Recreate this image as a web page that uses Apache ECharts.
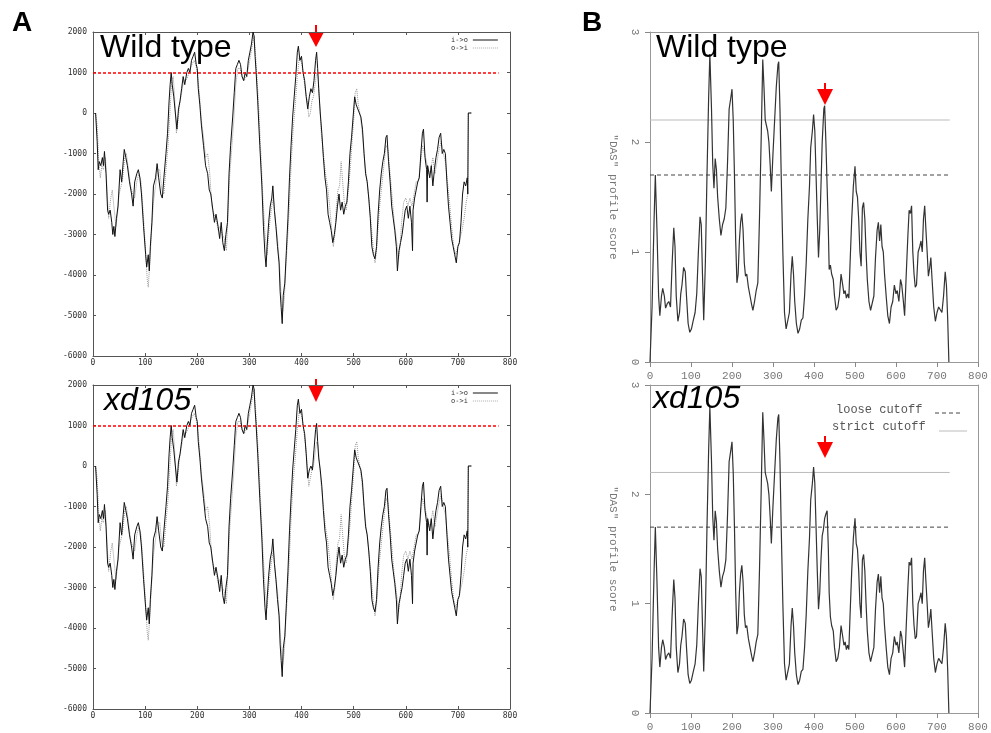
<!DOCTYPE html>
<html><head><meta charset="utf-8">
<script src="https://cdn.jsdelivr.net/npm/echarts@6/dist/echarts.min.js"></script>
<style>html,body{margin:0;padding:0;background:#fff}#c{width:991px;height:733px}</style>
</head><body><div id="c"></div>
<script>
// ---------- Panel A: hydrophobicity profile (residue, score) ----------
const wtInOut = [[5,0],[8,-700],[10,-1400],[12,-1200],[15,-1300],[18,-1100],[20,-1300],[22,-950],[25,-1500],[28,-2400],[30,-2500],[33,-2400],[36,-2700],[38,-3000],[40,-2800],[42,-3050],[45,-2600],[48,-2300],[52,-1400],[55,-1700],[58,-1200],[60,-900],[63,-1100],[66,-1300],[70,-1700],[74,-2000],[77,-2300],[80,-1700],[84,-1500],[87,-1400],[90,-1600],[93,-2000],[97,-2800],[101,-3500],[103,-3800],[106,-3500],[108,-3900],[110,-3300],[113,-2700],[116,-1800],[120,-1600],[123,-1250],[126,-1600],[130,-2000],[133,-2100],[136,-1600],[140,-1000],[143,-500],[146,300],[148,700],[150,1000],[152,700],[155,400],[158,0],[161,-400],[164,100],[167,300],[170,600],[173,900],[176,700],[180,1000],[183,1100],[186,1000],[189,1300],[192,1400],[195,1500],[198,1200],[200,1100],[202,600],[205,200],[208,-300],[212,-800],[216,-1300],[220,-1500],[223,-1900],[226,-2000],[230,-2400],[233,-2700],[236,-2500],[240,-2800],[243,-3100],[246,-2700],[249,-3200],[252,-3400],[255,-3000],[258,-2700],[261,-1500],[264,-800],[268,-100],[271,500],[274,1100],[277,1200],[280,1300],[283,1200],[286,900],[289,800],[292,1000],[295,900],[298,1300],[301,1500],[304,1700],[307,2000],[309,1900],[311,1400],[313,1000],[316,300],[320,-800],[324,-1800],[327,-2800],[330,-3500],[332,-3800],[334,-3300],[337,-2700],[340,-2300],[343,-2100],[345,-1800],[348,-2400],[351,-2800],[354,-3300],[357,-3700],[359,-4400],[361,-4800],[363,-5200],[365,-4500],[368,-4200],[371,-3400],[374,-2600],[377,-1600],[380,-800],[383,-100],[386,400],[389,900],[392,1500],[394,1650],[397,1300],[400,1400],[403,1000],[406,800],[409,400],[412,100],[415,400],[418,600],[421,500],[424,800],[427,1300],[429,1500],[431,1100],[433,600],[436,0],[439,-500],[442,-1100],[445,-1600],[448,-1900],[451,-2500],[454,-2700],[457,-2900],[460,-3200],[463,-3000],[466,-2700],[469,-2300],[472,-2000],[475,-2400],[478,-2200],[481,-2500],[484,-2300],[487,-2200],[490,-1700],[493,-1000],[496,-600],[499,-100],[502,400],[505,200],[508,100],[511,0],[514,-100],[517,-400],[520,-1000],[523,-1500],[526,-1700],[529,-2100],[532,-2600],[535,-3300],[538,-3500],[541,-3600],[544,-3300],[547,-2500],[550,-1900],[553,-1500],[556,-1200],[559,-1000],[562,-600],[564,-550],[567,-1200],[570,-1700],[573,-2300],[576,-2600],[579,-2900],[582,-3300],[584,-3900],[587,-3400],[590,-3200],[593,-3000],[596,-2700],[599,-2400],[602,-2300],[605,-2600],[608,-2300],[611,-2700],[613,-3400],[614,-2400],[617,-2100],[620,-1900],[623,-1700],[626,-1600],[629,-1000],[632,-500],[634,-400],[637,-1100],[640,-1400],[641,-2200],[642,-1300],[646,-1600],[649,-1300],[652,-1800],[655,-1400],[658,-1100],[661,-900],[664,-600],[667,-500],[670,-1000],[673,-900],[676,-1000],[679,-1700],[682,-2300],[685,-2700],[688,-3100],[691,-3300],[694,-3500],[697,-3700],[700,-3300],[703,-3200],[706,-2700],[709,-2000],[712,-1700],[715,-1800],[718,-1600],[719,-2000],[720,0],[726,0]];
const wtOutIn = [[5,0],[8,-300],[11,-1200],[14,-1600],[17,-1300],[20,-1400],[24,-1100],[27,-1900],[30,-2600],[34,-2100],[37,-1900],[40,-2300],[44,-2800],[47,-2500],[50,-2000],[54,-1800],[57,-1600],[61,-1100],[64,-1000],[68,-1400],[72,-1800],[76,-2000],[80,-2100],[84,-1700],[88,-1500],[92,-1700],[96,-2400],[100,-3200],[104,-4100],[106,-4300],[109,-3700],[112,-3000],[116,-2200],[120,-1800],[124,-1400],[128,-1400],[132,-1900],[136,-2000],[140,-1400],[144,-800],[148,100],[151,800],[154,900],[157,300],[160,-500],[163,-200],[166,200],[170,500],[174,800],[178,800],[182,900],[186,1100],[190,1200],[194,1300],[197,1200],[200,1000],[204,500],[208,-200],[212,-600],[216,-1100],[220,-1000],[224,-1500],[228,-2300],[232,-2500],[236,-2600],[240,-2900],[244,-2800],[248,-3000],[252,-3100],[256,-3400],[259,-2500],[262,-1600],[266,-900],[270,-200],[274,700],[278,1100],[282,1100],[286,900],[290,800],[294,900],[298,1100],[302,1400],[306,1700],[309,1900],[312,1400],[315,800],[318,100],[322,-1000],[326,-2100],[330,-3000],[334,-3500],[337,-3000],[340,-2600],[343,-2300],[346,-2100],[350,-2700],[354,-3100],[358,-3800],[361,-4500],[364,-4900],[367,-4600],[370,-3800],[373,-3200],[377,-2200],[380,-1300],[384,-400],[388,200],[392,900],[396,1400],[399,1300],[402,1100],[405,800],[408,500],[411,300],[414,-100],[417,0],[420,300],[423,400],[426,700],[429,1000],[432,900],[435,200],[438,-500],[442,-1000],[446,-1500],[450,-1800],[454,-2300],[458,-2900],[461,-3300],[464,-3000],[467,-2300],[470,-1900],[473,-1800],[476,-1200],[479,-1700],[482,-2200],[486,-2400],[490,-1900],[494,-1300],[497,-700],[500,-200],[503,500],[506,600],[509,200],[512,0],[515,-300],[518,-700],[522,-1300],[526,-1700],[530,-2200],[534,-2800],[538,-3400],[541,-3700],[544,-3400],[547,-2800],[550,-2300],[554,-1800],[558,-1300],[562,-800],[566,-900],[570,-1500],[574,-2100],[578,-2700],[582,-3100],[586,-3600],[589,-3300],[592,-2700],[596,-2200],[600,-2100],[604,-2300],[608,-2100],[612,-2300],[616,-2000],[620,-1700],[624,-1700],[628,-1300],[632,-800],[636,-1000],[640,-1200],[644,-1500],[648,-1400],[652,-1100],[656,-1500],[660,-1200],[664,-900],[668,-700],[672,-1000],[676,-1200],[680,-1700],[684,-2200],[688,-2800],[692,-3300],[696,-3500],[700,-3300],[704,-3100],[708,-2900],[712,-2600],[716,-2200],[719,-2000],[720,0],[726,0]];
// xd105 differs only around residues 409-438
const xdInOutSegment = [[409,300],[412,-300],[415,-100],[418,0],[421,-100],[424,400],[427,900],[429,1050],[431,600],[433,200],[436,-100]];
const xdOutInSegment = [[411,0],[414,-500],[417,-300],[420,-100],[423,0],[426,300],[429,600],[432,500],[435,0]];
const aCutoff = 1000;
const aCutoffSpan = [0, 778];
const aXTicks = {min:0, max:800, interval:100};
const aYTicks = {min:-6000, max:2000, interval:1000};

// ---------- Panel B: DAS profile (residue, score) ----------
const wtDAS = [[0,0],[5,0.5],[10,1.3],[13,1.7],[17,1.2],[21,0.6],[24,0.42],[28,0.6],[31,0.67],[35,0.6],[38,0.49],[42,0.53],[46,0.55],[50,0.5],[54,0.9],[58,1.22],[61,1.05],[64,0.6],[68,0.37],[72,0.45],[75,0.62],[78,0.7],[82,0.86],[86,0.82],[89,0.6],[93,0.35],[97,0.27],[101,0.3],[105,0.37],[110,0.45],[114,0.62],[118,1.0],[122,1.32],[125,1.25],[128,0.8],[131,0.38],[135,0.9],[139,1.7],[143,2.4],[146,2.8],[150,2.3],[153,1.8],[156,1.58],[159,1.85],[162,1.75],[165,1.5],[169,1.3],[173,1.15],[177,1.25],[181,1.3],[185,1.4],[189,1.8],[193,2.3],[197,2.4],[200,2.48],[203,2.2],[206,1.7],[209,1.1],[212,0.72],[215,0.8],[218,1.1],[221,1.27],[224,1.35],[227,1.2],[230,0.9],[233,0.78],[236,0.8],[240,0.68],[244,0.6],[248,0.52],[251,0.47],[255,0.55],[259,0.65],[263,0.72],[267,1.3],[271,2.0],[275,2.75],[278,2.5],[281,2.2],[284,2.15],[287,2.1],[290,2.0],[293,1.8],[296,1.55],[300,1.9],[304,2.2],[308,2.5],[312,2.7],[314,2.73],[317,2.3],[320,1.7],[324,1.0],[328,0.45],[332,0.3],[336,0.3],[340,0.45],[344,0.8],[347,0.96],[350,0.8],[353,0.55],[357,0.35],[361,0.26],[365,0.3],[369,0.38],[373,0.4],[377,0.6],[381,0.9],[385,1.3],[389,1.6],[392,1.95],[396,2.1],[399,2.25],[402,2.1],[405,1.7],[408,1.3],[411,0.95],[414,1.2],[417,1.6],[420,2.0],[424,2.3],[426,2.33],[429,2.0],[432,1.6],[435,1.2],[437,0.84],[440,0.88],[443,0.8],[447,0.75],[450,0.6],[454,0.47],[458,0.5],[462,0.6],[466,0.8],[470,0.7],[473,0.62],[476,0.65],[479,0.58],[482,0.62],[485,0.58],[488,0.9],[492,1.3],[496,1.6],[500,1.78],[503,1.55],[506,1.5],[509,1.3],[512,1.0],[515,0.87],[518,1.4],[521,1.45],[524,1.3],[527,1.0],[530,0.75],[534,0.55],[538,0.47],[542,0.48],[546,0.6],[550,0.95],[554,1.2],[557,1.27],[560,1.1],[563,1.25],[566,1.05],[569,1.0],[572,0.8],[576,0.6],[580,0.42],[584,0.35],[588,0.5],[592,0.55],[596,0.7],[600,0.62],[603,0.65],[607,0.55],[611,0.75],[614,0.7],[618,0.55],[621,0.42],[625,0.8],[629,1.15],[632,1.38],[635,1.35],[638,1.42],[641,1.0],[644,0.8],[647,0.68],[650,0.7],[654,1.0],[658,1.05],[661,1.1],[664,1.0],[667,1.3],[670,1.42],[673,1.2],[676,1.0],[679,0.78],[682,0.85],[685,0.95],[688,0.75],[692,0.5],[696,0.37],[700,0.45],[704,0.5],[708,0.5],[712,0.45],[716,0.6],[720,0.82],[723,0.7],[726,0.4],[729,0]];
const xdDASSegment = [[414,1.1],[417,1.4],[420,1.62],[423,1.68],[426,1.78],[429,1.82],[432,1.85],[435,1.5],[437,1.1]];
const looseCutoff = 1.7;
const strictCutoff = 2.2;
const bCutoffSpan = [0, 731];
const bXTicks = {min:0, max:800, interval:100};
const bYTicks = {min:0, max:3, interval:1};

function withSegment(base, seg){
  const lo = seg[0][0], hi = seg[seg.length-1][0];
  return base.filter(p => p[0] < lo || p[0] > hi).concat(seg).sort((a,b)=>a[0]-b[0]);
}
const xdInOut = withSegment(wtInOut, xdInOutSegment);
const xdOutIn = withSegment(wtOutIn, xdOutInSegment);
const xdDAS = withSegment(wtDAS, xdDASSegment);

const chart = echarts.init(document.getElementById('c'), null, {renderer:'canvas'});
const monoA = {fontFamily:'DejaVu Sans Mono', fontSize:8, color:'#333'};
const monoB = {fontFamily:'Liberation Mono', fontSize:11, color:'#777'};
const frameA = {show:true, onZero:false, lineStyle:{color:'#555', width:1}};
const frameB = {show:true, onZero:false, lineStyle:{color:'#999', width:1}};
const plain = v => String(v);

function aX(grid, pos, labels){
  return {type:'value', gridIndex:grid, position:pos, ...aXTicks, axisLine:frameA,
    axisTick:{show:true, inside:true, length:3, lineStyle:{color:'#555'}},
    axisLabel:{show:labels, margin:3, formatter:plain, ...monoA}, splitLine:{show:false}};
}
function aY(grid, pos, labels){
  return {type:'value', gridIndex:grid, position:pos, ...aYTicks, axisLine:frameA,
    axisTick:{show:true, inside:true, length:3, lineStyle:{color:'#555'}},
    axisLabel:{show:labels, margin:6, formatter:plain, ...monoA}, splitLine:{show:false}};
}
function bX(grid, pos, labels){
  return {type:'value', gridIndex:grid, position:pos, ...bXTicks, axisLine:frameB,
    axisTick:{show:labels, inside:false, length:5, lineStyle:{color:'#888'}},
    axisLabel:{show:labels, margin:9, formatter:plain, ...monoB}, splitLine:{show:false}};
}
function bY(grid, pos, labels){
  return {type:'value', gridIndex:grid, position:pos, ...bYTicks, axisLine:frameB,
    axisTick:{show:labels, inside:false, length:5, lineStyle:{color:'#888'}},
    axisLabel:{show:labels, margin:10, rotate:-90, formatter:plain, ...monoB}, splitLine:{show:false},
    name: labels ? '"DAS" profile score' : '', nameLocation:'middle', nameGap:32, nameRotate:-90,
    nameTextStyle:{fontFamily:'Liberation Mono', fontSize:11, color:'#777'}};
}

function hline(name, idx, y, span, color, type, z){
  return {id:name + '_' + idx, name:name + '_' + idx, type:'line', xAxisIndex:idx, yAxisIndex:idx, symbol:'none', silent:true, z:z,
    data:[[span[0], y],[span[1], y]], itemStyle:{color:color},
    lineStyle:{color:color, type:type, width:1}, animation:false};
}
function aSeries(idx, io, oi){
  return [
    {name:'o->i', type:'line', xAxisIndex:idx, yAxisIndex:idx, data:oi, symbol:'none', z:2,
      itemStyle:{color:'#999'}, lineStyle:{color:'#999', width:1, type:'dotted'}, animation:false},
    {name:'i->o', type:'line', xAxisIndex:idx, yAxisIndex:idx, data:io, symbol:'none', z:3,
      itemStyle:{color:'#111'}, lineStyle:{color:'#111', width:1}, animation:false}
  ];
}
function bSeries(idx, d){
  return [
    hline('strict', idx, strictCutoff, bCutoffSpan, '#bbbbbb', 'solid', 1),
    hline('loose', idx, looseCutoff, bCutoffSpan, '#444444', [4,3], 1),
    {name:'DAS', type:'line', xAxisIndex:idx, yAxisIndex:idx, data:d, symbol:'none', z:3,
      itemStyle:{color:'#333'}, lineStyle:{color:'#333', width:1.2}, animation:false}
  ];
}

function arrow(cx, yTop, yTri, yTip){
  return {type:'group', children:[
    {type:'rect', shape:{x:cx-1, y:yTop, width:2, height:yTri-yTop+1}, style:{fill:'#ff0000'}},
    {type:'polygon', shape:{points:[[cx-8,yTri],[cx+8,yTri],[cx,yTip]]}, style:{fill:'#ff0000'}}
  ]};
}
const bigFont = '32px "Liberation Sans", Arial, sans-serif';
const bigItalic = 'italic 32px "Liberation Sans", Arial, sans-serif';

const solidIcon = 'path://M0,0H50V2H0Z';
const dotIcon = 'path://M0,0H2V2H0Z M4,0H6V2H4Z M8,0H10V2H8Z M12,0H14V2H12Z M16,0H18V2H16Z M20,0H22V2H20Z M24,0H26V2H24Z M28,0H30V2H28Z M32,0H34V2H32Z M36,0H38V2H36Z M40,0H42V2H40Z M44,0H46V2H44Z M48,0H50V2H48Z';
const legendA = (top) => ({
  data:[{name:'i->o', icon:solidIcon, itemStyle:{color:'#111'}}, {name:'o->i', icon:dotIcon, itemStyle:{color:'#aaa'}}],
  orient:'vertical', left:451, top:top, itemWidth:25, itemHeight:1, itemGap:0, align:'right', padding:0, selectedMode:false,
  textStyle:{fontFamily:'DejaVu Sans Mono', fontSize:7, color:'#333', lineHeight:8}});

const staticGraphics = [
  {type:'text', style:{x:12, y:23, text:'A', font:'bold 28px "Liberation Sans", Arial, sans-serif', fill:'#000', verticalAlign:'middle'}},
  {type:'text', style:{x:582, y:23, text:'B', font:'bold 28px "Liberation Sans", Arial, sans-serif', fill:'#000', verticalAlign:'middle'}},
  {type:'text', z:100, style:{x:100, y:48, text:'Wild type', font:bigFont, fill:'#000', verticalAlign:'middle'}},
  {type:'text', z:100, style:{x:104, y:401, text:'xd105', font:bigItalic, fill:'#000', verticalAlign:'middle'}},
  {type:'text', z:100, style:{x:656, y:48, text:'Wild type', font:bigFont, fill:'#000', verticalAlign:'middle'}},
  {type:'text', z:100, style:{x:653, y:399, text:'xd105', font:bigItalic, fill:'#000', verticalAlign:'middle'}},
  {type:'text', style:{x:836, y:410, text:'loose cutoff', font:'12px "Liberation Mono", monospace', fill:'#555', verticalAlign:'middle'}},
  {type:'line', shape:{x1:935, y1:413, x2:963, y2:413}, style:{stroke:'#444', lineWidth:1, lineDash:[4,3]}},
  {type:'text', style:{x:832, y:427, text:'strict cutoff', font:'12px "Liberation Mono", monospace', fill:'#555', verticalAlign:'middle'}},
  {type:'line', shape:{x1:939, y1:431, x2:967, y2:431}, style:{stroke:'#bbb', lineWidth:1}},
  arrow(316, 25, 32, 47),
  arrow(316, 379, 385, 402),
  arrow(825, 83, 89, 105),
  arrow(825, 436, 442, 458)
];

chart.setOption({
  backgroundColor:'#fff',
  animation:false,
  grid:[
    {left:93, top:32, width:417, height:324},
    {left:93, top:385, width:417, height:324},
    {left:650, top:32, width:328, height:330},
    {left:650, top:385, width:328, height:329}
  ],
  xAxis:[aX(0,'bottom',true), aX(1,'bottom',true), aX(0,'top',false), aX(1,'top',false),
         bX(2,'bottom',true), bX(3,'bottom',true), bX(2,'top',false), bX(3,'top',false)],
  yAxis:[aY(0,'left',true), aY(1,'left',true), aY(0,'right',false), aY(1,'right',false),
         bY(2,'left',true), bY(3,'left',true), bY(2,'right',false), bY(3,'right',false)],
  legend:[legendA(36), legendA(389)],
  series:[
    ...aSeries(0, wtInOut, wtOutIn),
    ...aSeries(1, xdInOut, xdOutIn),
    ...bSeries(4, wtDAS),
    ...bSeries(5, xdDAS)
  ],
  graphic: staticGraphics
});

// red cutoff lines in panel A, positioned through the axes' own scales
const cutoffLines = [0, 1].map(g => {
  const p0 = chart.convertToPixel({xAxisIndex:g, yAxisIndex:g}, [aCutoffSpan[0], aCutoff]);
  const p1 = chart.convertToPixel({xAxisIndex:g, yAxisIndex:g}, [aCutoffSpan[1], aCutoff]);
  const y = Math.round(p0[1]);
  return {type:'line', z:50, silent:true, shape:{x1:p0[0], y1:y, x2:p1[0], y2:y},
    style:{stroke:'#ff0000', lineWidth:1.6, lineDash:[3,2]}};
});
chart.setOption({graphic: staticGraphics.concat(cutoffLines)});
</script>
</body></html>
